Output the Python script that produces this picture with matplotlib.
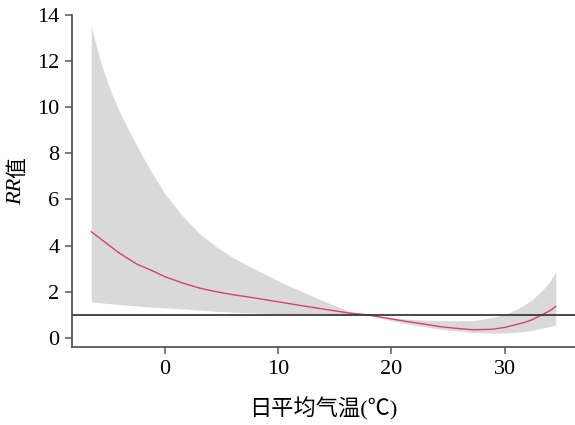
import matplotlib
matplotlib.use("Agg")
import matplotlib.pyplot as plt

# daily mean temperature (deg C) and RR curve with 95% CI
temp = [-6.5, -5.7, -4.9, -4.1, -3.3, -2.5, -1.3, 0, 1.6, 3.1, 4.5, 6.0,
        7.5, 9.0, 10.4, 12.0, 13.4, 15.0, 16.3, 17.8, 19.5, 21.3, 22.8,
        24.2, 25.7, 27.2, 28.9, 30.0, 30.9, 31.7, 32.4, 33.3, 34.0, 34.5]
rr = [4.6, 4.3, 4.0, 3.7, 3.45, 3.2, 2.95, 2.65, 2.37, 2.15, 2.0, 1.87,
      1.76, 1.64, 1.53, 1.40, 1.29, 1.17, 1.07, 1.0, 0.86, 0.71, 0.60,
      0.49, 0.41, 0.35, 0.37, 0.45, 0.56, 0.66, 0.78, 1.0, 1.18, 1.36]
upper = [13.5, 12.0, 10.85, 9.9, 9.1, 8.35, 7.28, 6.25, 5.26, 4.5, 3.96, 3.48,
         3.09, 2.72, 2.37, 2.03, 1.72, 1.40, 1.14, 1.0, 0.9, 0.81, 0.77,
         0.75, 0.74, 0.74, 0.88, 1.02, 1.2, 1.42, 1.65, 2.05, 2.45, 2.87]
lower = [1.56, 1.52, 1.48, 1.45, 1.41, 1.38, 1.33, 1.3, 1.25, 1.2, 1.15, 1.11,
         1.08, 1.06, 1.04, 1.03, 1.02, 1.01, 1.0, 1.0, 0.8, 0.61, 0.49,
         0.38, 0.30, 0.23, 0.2, 0.21, 0.23, 0.27, 0.32, 0.42, 0.49, 0.56]

xticks = [0, 10, 20, 30]
yticks = [0, 2, 4, 6, 8, 10, 12, 14]

plt.rcParams["font.family"] = ["Liberation Serif", "Noto Sans CJK SC"]

fig = plt.figure(figsize=(5.75, 4.25), dpi=100)
ax = fig.add_axes([0.1252, 0.1835, 0.8748, 0.7812])

ax.fill_between(temp, lower, upper, color="#d9d9d9", linewidth=0)
ax.plot(temp, rr, color="#d6426a", linewidth=1.0)
ax.axhline(1, color="#3a3a3a", linewidth=1.3)

ax.set_xlim(-8.2, 36.2)
ax.set_ylim(-0.4, 14)
ax.set_xticks(xticks)
ax.set_yticks(yticks)

for side in ["top", "right"]:
    ax.spines[side].set_visible(False)
for side in ["left", "bottom"]:
    ax.spines[side].set_color("#4a4a4a")
    ax.spines[side].set_linewidth(1.2)

ax.tick_params(direction="out", length=5, width=1.2, color="#666666",
               labelsize=16, labelcolor="black", pad=4)

ax.set_xlabel("日平均气温(℃)", fontsize=16, labelpad=13)

# y label: italic "RR" followed by "值", rotated
W, H = 575, 425
rr_txt = fig.text(17 / W, 1 - 205 / H, "RR", fontsize=16, style="italic",
                  rotation=90, rotation_mode="anchor", ha="left", va="center")
fig.canvas.draw()
bb = rr_txt.get_window_extent()
fig.text(17 / W, bb.y1 / H, "值", fontsize=15,
         family=["Noto Sans CJK SC"], rotation=90, rotation_mode="anchor",
         ha="left", va="center")

fig.savefig("out.png", dpi=100)
